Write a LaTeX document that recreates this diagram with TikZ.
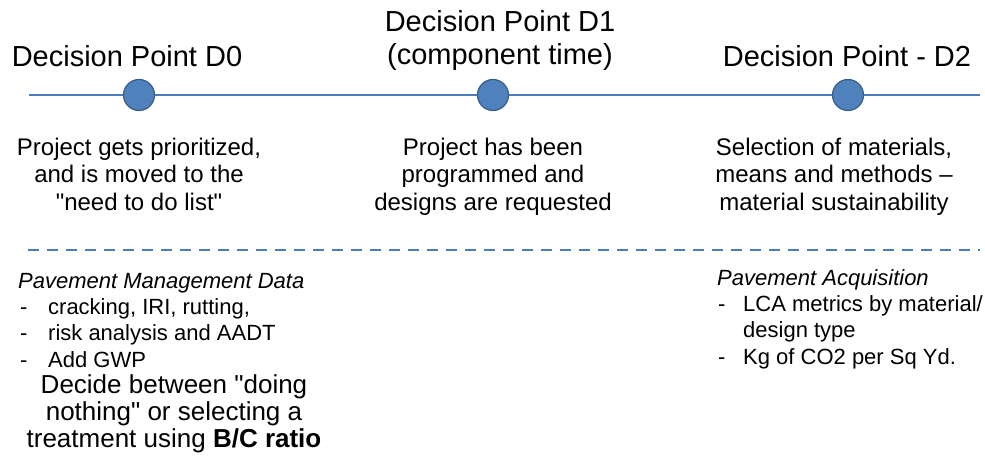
\documentclass[tikz,border=0pt]{standalone}
\usepackage{fontspec}
\setmainfont{Liberation Sans}[Ligatures=TeXOff]
\definecolor{lineblue}{HTML}{4A7EBB}
\definecolor{dotfill}{HTML}{4F81BD}
\definecolor{dotedge}{HTML}{385D8A}
\begin{document}
\begin{tikzpicture}[x=1pt,y=-1pt,
  title/.style={anchor=base,inner sep=0pt,align=center,font=\fontsize{29}{33}\selectfont},
  body/.style={anchor=base,inner sep=0pt,align=center,font=\fontsize{24}{27.5}\selectfont},
  note/.style={anchor=base west,inner sep=0pt,align=left,font=\fontsize{22}{26.3}\selectfont},
  decide/.style={anchor=base,inner sep=0pt,align=center,font=\fontsize{26}{27}\selectfont},
  dot/.style={circle,fill=dotfill,draw=dotedge,line width=1.2pt,minimum size=31pt,inner sep=0pt}]
\useasboundingbox (0,0) rectangle (985,463);
% timeline
\coordinate (tl) at (29,95);
\coordinate (tr) at (980,95);
\draw[lineblue,line width=2pt] (tl) -- (tr);
\node[dot] (d0) at (139,95) {};
\node[dot] (d1) at (493,95) {};
\node[dot] (d2) at (848,95) {};
% titles (base = last line)
\node[title] (t0) at (127,66) {Decision Point D0};
\node[title] (t1) at (500,64) {Decision Point D1\\(component time)};
\node[title] (t2) at (847,66) {Decision Point - D2};
% bodies
\node[body] (b0) at (139,210) {Project gets prioritized,\\and is moved to the\\"need to do list"};
\node[body] (b1) at (493,210) {Project has been\\programmed and\\designs are requested};
\node[body] (b2) at (834,210) {Selection of materials,\\means and methods –\\material sustainability};
% dashed separator
\coordinate (dl) at (28,250);
\coordinate (dr) at (980,250);
\draw[lineblue,line width=2pt,dash pattern=on 11pt off 8pt] (dl) -- (dr);
% lower notes
\node[note] (n0) at (18,367) {\textit{Pavement Management Data}\\
\makebox[30pt][l]{\hspace{2pt}-}cracking, IRI, rutting,\\
\makebox[30pt][l]{\hspace{2pt}-}risk analysis and AADT\\
\makebox[30pt][l]{\hspace{2pt}-}Add GWP};
\node[decide] (n1) at (174,447) {Decide between "doing\\nothing" or selecting a\\treatment using \textbf{B/C ratio}};
\node[note] (n2) at (717,364) {\textit{Pavement Acquisition}\\
\makebox[26pt][l]{\hspace{1pt}-}LCA metrics by material/\\
\hspace*{26pt}design type\\
\makebox[26pt][l]{\hspace{1pt}-}Kg of CO2 per Sq Yd.};
\end{tikzpicture}
\end{document}
